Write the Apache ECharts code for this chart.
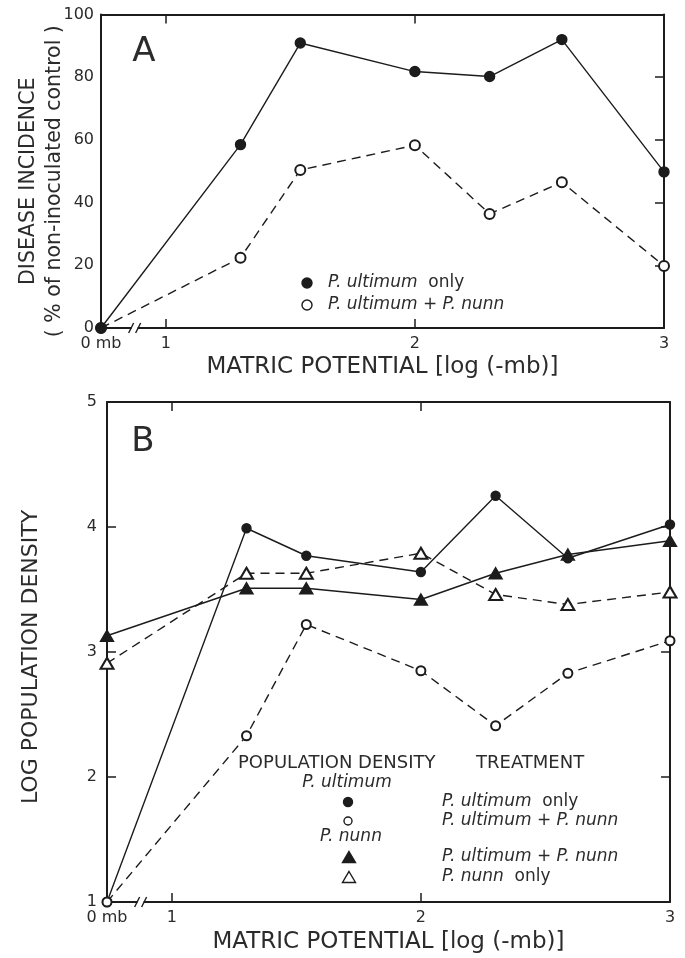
<!DOCTYPE html>
<html>
<head>
<meta charset="utf-8">
<title>Matric potential: disease incidence and population density</title>
<script src="https://cdn.jsdelivr.net/npm/echarts@6/dist/echarts.min.js"></script>
<style>
  html, body { margin: 0; padding: 0; background: #fff; }
  #main { width: 685px; height: 958px; }
</style>
</head>
<body>
<div id="main"></div>
<script>
// x positions in log(-mb); first one is the 0 mb control, left of the axis break
var xPos = [0.74, 1.3, 1.54, 2.0, 2.3, 2.59, 3.0];
var xLabelValues = [0.74, 1, 2, 3];
var xTickValues = [1, 2];
var breakAt = 0.875;

// panel A - disease incidence (% of non-inoculated control)
var incUltOnly = [0, 58.5, 90.9, 81.8, 80.2, 92.0, 49.8];
var incUltNunn = [0, 22.4, 50.4, 58.3, 36.4, 46.5, 19.8];

// panel B - log population density
var popUltOnly = [1.0, 3.99, 3.77, 3.64, 4.25, 3.75, 4.02];   // P. ultimum, P. ultimum only
var popUltMixed = [1.0, 2.33, 3.22, 2.85, 2.41, 2.83, 3.09];  // P. ultimum, P. ultimum + P. nunn
var popNunnMixed = [3.13, 3.51, 3.51, 3.42, 3.63, 3.78, 3.89]; // P. nunn, P. ultimum + P. nunn
var popNunnOnly = [2.91, 3.63, 3.63, 3.79, 3.46, 3.38, 3.48];  // P. nunn, P. nunn only

var ink = '#1c1c1c';
var txt = '#2b2b2b';
var font = 'DejaVu Sans';

function pairs(vals) {
    return xPos.map(function (x, i) { return [x, vals[i]]; });
}

function xAxisFor(gi, pos, name) {
    var bottom = pos === 'bottom';
    return {
        type: 'value', gridIndex: gi, position: pos,
        min: xPos[0], max: 3,
        axisLine: { show: true, onZero: false, lineStyle: { color: ink, width: 2 } },
        axisTick: { show: true, inside: true, length: 9, customValues: xTickValues, lineStyle: { color: ink, width: 1.5 } },
        axisLabel: {
            show: bottom, margin: 8, color: txt, fontFamily: font, fontSize: 16,
            customValues: xLabelValues, showMinLabel: true,
            formatter: function (v) { return Math.abs(v - xPos[0]) < 1e-6 ? '0 mb' : String(v); }
        },
        splitLine: { show: false },
        name: bottom ? name : '', nameLocation: 'middle', nameGap: 28,
        nameTextStyle: { color: txt, fontFamily: font, fontSize: 23 }
    };
}

function yAxisFor(gi, pos, min, max, step, opt) {
    var left = pos === 'left';
    return {
        type: 'value', gridIndex: gi, position: pos,
        min: min, max: max, interval: step,
        axisLine: { show: true, onZero: false, lineStyle: { color: ink, width: 2 } },
        axisTick: { show: left ? opt.leftTicks : true, inside: true, length: 9, lineStyle: { color: ink, width: 1.5 } },
        axisLabel: { show: left, margin: opt.margin, color: txt, fontFamily: font, fontSize: 16 },
        splitLine: { show: false },
        name: left ? opt.name : '', nameLocation: 'middle', nameRotate: 90, nameGap: opt.nameGap,
        nameMoveOverlap: false,
        nameTextStyle: { color: txt, fontFamily: font, fontSize: opt.nameSize, lineHeight: opt.lineHeight,
            padding: opt.namePad }
    };
}

function series(name, vals, gi, symbol, size, dashed, z) {
    return {
        name: name, type: 'line', xAxisIndex: gi * 2, yAxisIndex: gi * 2,
        data: pairs(vals), symbol: symbol, symbolSize: size, showAllSymbol: true,
        z: z,
        lineStyle: { color: ink, width: 1.4, type: dashed ? [9, 6] : 'solid' },
        itemStyle: { color: ink, borderColor: ink, borderWidth: 1.4 },
        emphasis: { disabled: true }
    };
}

var myChart = echarts.init(document.getElementById('main'), null, { renderer: 'canvas' });

var option = {
    backgroundColor: '#fff',
    animation: false,
    grid: [
        { left: 101, right: 21, top: 14.5, bottom: 630, outerBoundsMode: 'none', containLabel: false },
        { left: 107, right: 15, top: 402, bottom: 56, outerBoundsMode: 'none', containLabel: false }
    ],
    xAxis: [
        xAxisFor(0, 'bottom', 'MATRIC POTENTIAL [log (-mb)]'),
        xAxisFor(0, 'top'),
        xAxisFor(1, 'bottom', 'MATRIC POTENTIAL [log (-mb)]'),
        xAxisFor(1, 'top')
    ],
    yAxis: [
        yAxisFor(0, 'left', 0, 100, 20, { leftTicks: false, margin: 7, nameGap: 33, nameSize: 20.5, lineHeight: 26,
            namePad: [0, 20, 0, 0], name: 'DISEASE INCIDENCE\n( % of non-inoculated control )' }),
        yAxisFor(0, 'right', 0, 100, 20, {}),
        yAxisFor(1, 'left', 1, 5, 1, { leftTicks: true, margin: 10, nameGap: 64, nameSize: 22, lineHeight: 24,
            namePad: [0, 10, 0, 0], name: 'LOG POPULATION DENSITY' }),
        yAxisFor(1, 'right', 1, 5, 1, {})
    ],
    series: [
        series('A: P. ultimum only', incUltOnly, 0, 'circle', 10, false, 3),
        series('A: P. ultimum + P. nunn', incUltNunn, 0, 'emptyCircle', 10, true, 2),
        series('B: P. ultimum, P. ultimum only', popUltOnly, 1, 'circle', 9, false, 2),
        series('B: P. nunn, P. ultimum + P. nunn', popNunnMixed, 1, 'triangle', [13, 11], false, 2),
        series('B: P. nunn, P. nunn only', popNunnOnly, 1, 'emptyTriangle', [13, 11], true, 3),
        series('B: P. ultimum, P. ultimum + P. nunn', popUltMixed, 1, 'emptyCircle', 9, true, 3)
    ]
};
myChart.setOption(option);

// --- annotations: panel letters, legends and the axis breaks ---
function label(text, x, y, size, extra) {
    var st = { text: text, x: x, y: y, fontFamily: font, fontSize: size, fill: txt,
        align: 'left', verticalAlign: 'middle',
        rich: { i: { fontStyle: 'italic', fontFamily: font, fontSize: size, fill: txt } } };
    for (var k in extra || {}) st[k] = extra[k];
    return { type: 'text', z: 10, style: st };
}
function dot(cx, cy, r, hollow) {
    return { type: 'circle', z: 10, shape: { cx: cx, cy: cy, r: r },
        style: { fill: hollow ? '#fff' : ink, stroke: ink, lineWidth: 1.4 } };
}
function tri(cx, cy, w, h, hollow) {
    return { type: 'polygon', z: 10,
        shape: { points: [[cx, cy - h / 2], [cx + w / 2, cy + h / 2], [cx - w / 2, cy + h / 2]] },
        style: { fill: hollow ? '#fff' : ink, stroke: ink, lineWidth: 1.4 } };
}
function axisBreak(gi, yMin) {
    var p = myChart.convertToPixel({ xAxisIndex: gi * 2, yAxisIndex: gi * 2 }, [breakAt, yMin]);
    return [
        { type: 'rect', z: 10, shape: { x: p[0] - 3, y: p[1] - 3, width: 6, height: 6 }, style: { fill: '#fff' } },
        { type: 'line', z: 11, shape: { x1: p[0] - 6, y1: p[1] + 5, x2: p[0] - 1, y2: p[1] - 5 }, style: { stroke: ink, lineWidth: 1.4 } },
        { type: 'line', z: 11, shape: { x1: p[0] + 1, y1: p[1] + 5, x2: p[0] + 6, y2: p[1] - 5 }, style: { stroke: ink, lineWidth: 1.4 } }
    ];
}

var graphics = [
    label('A', 144, 52, 34, { align: 'center' }),
    label('B', 143, 442, 34, { align: 'center' }),
    // legend A
    dot(307, 283, 5, false),
    label('{i|P. ultimum}  only', 328, 283, 17),
    dot(307, 305, 5, true),
    label('{i|P. ultimum + P. nunn}', 328, 305, 17),
    // legend B
    label('POPULATION DENSITY', 238, 763, 18),
    label('TREATMENT', 476, 763, 18),
    label('{i|P. ultimum}', 347, 783, 17, { align: 'center' }),
    dot(348, 802, 4.5, false),
    label('{i|P. ultimum}  only', 442, 802, 17),
    dot(348, 821, 4, true),
    label('{i|P. ultimum + P. nunn}', 442, 821, 17),
    label('{i|P. nunn}', 351, 837, 17, { align: 'center' }),
    tri(349, 857, 13, 11, false),
    label('{i|P. ultimum + P. nunn}', 442, 857, 17),
    tri(349, 877, 13, 11, true),
    label('{i|P. nunn}  only', 442, 877, 17)
].concat(axisBreak(0, 0), axisBreak(1, 1));

myChart.setOption({ graphic: graphics });
</script>
</body>
</html>
